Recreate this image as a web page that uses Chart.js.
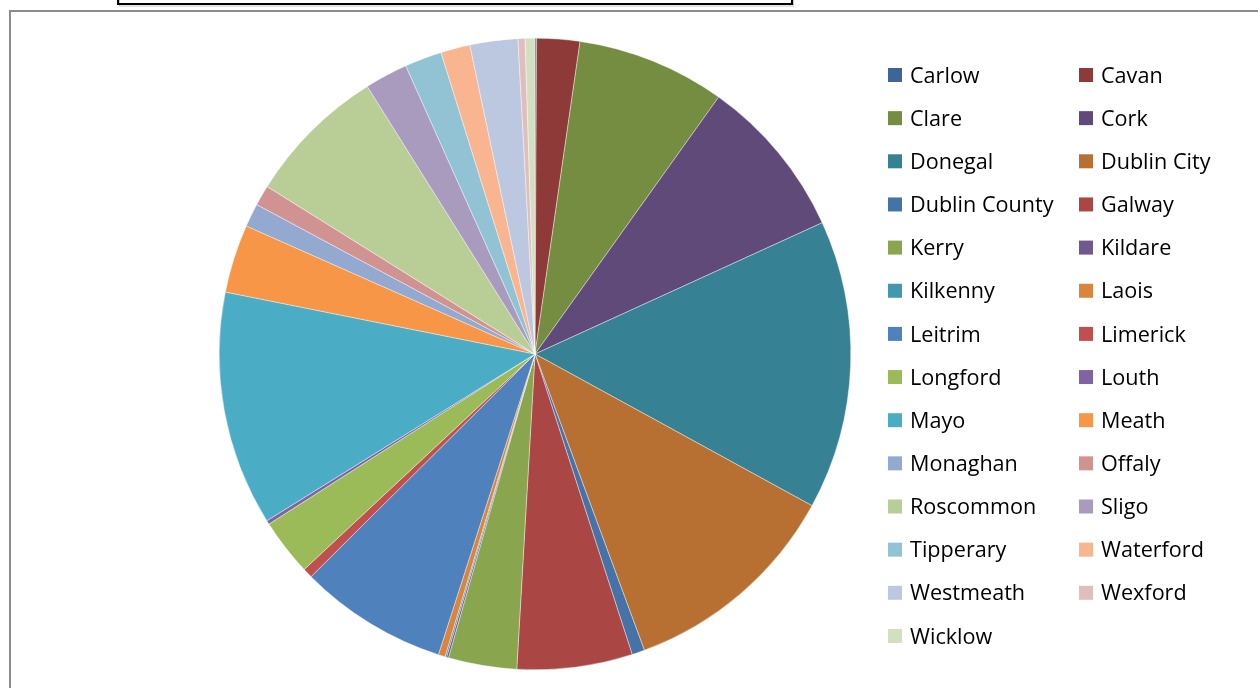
<!DOCTYPE html>
<html>
<head>
<meta charset="utf-8">
<title>Counties</title>
<script src="https://cdn.jsdelivr.net/npm/chart.js@4.4.1/dist/chart.umd.min.js"></script>
<style>
    html, body { margin: 0; padding: 0; background: #fff; }
    #wrap { width: 1258px; height: 688px; position: relative; }
</style>
</head>
<body>
<div id="wrap"><canvas id="countyChart"></canvas></div>
<script>
const counties = ['Carlow', 'Cavan', 'Clare', 'Cork', 'Donegal', 'Dublin City', 'Dublin County', 'Galway',
    'Kerry', 'Kildare', 'Kilkenny', 'Laois', 'Leitrim', 'Limerick', 'Longford', 'Louth', 'Mayo', 'Meath',
    'Monaghan', 'Offaly', 'Roscommon', 'Sligo', 'Tipperary', 'Waterford', 'Westmeath', 'Wexford', 'Wicklow'];

// share of total (%)
const shares = [0.08, 2.2, 7.6, 8.3, 14.8, 11.4, 0.65, 5.9,
    3.5, 0.1, 0.08, 0.35, 7.6, 0.5, 2.9, 0.2, 12.0, 3.5,
    1.2, 1.05, 7.2, 2.2, 1.9, 1.5, 2.45, 0.36, 0.5];

const sliceColors = ['#3d6596', '#8e3a38', '#758d41', '#5f4a79', '#368294', '#b86f32', '#4572a7', '#aa4643',
    '#89a54e', '#71588f', '#4198af', '#db843d', '#4f81bd', '#c0504d', '#9bbb59', '#8064a2', '#4bacc6', '#f79646',
    '#93a9cf', '#d19392', '#b9cd96', '#a99bbd', '#91c3d5', '#f9b590', '#bcc8e0', '#e0bebd', '#d3dfc1'];

// frame and the clipped title box behind the plot
const framePlugin = {
    id: 'frame',
    beforeDraw(chart) {
        const ctx = chart.ctx;
        ctx.save();
        ctx.fillStyle = '#ffffff';
        ctx.fillRect(0, 0, chart.width, chart.height);
        ctx.strokeStyle = '#8c8c8c';
        ctx.lineWidth = 2;
        ctx.strokeRect(10, 11, chart.width + 20, chart.height + 20);
        ctx.strokeStyle = '#c8c8c8';
        ctx.lineWidth = 1;
        ctx.strokeRect(119.5, -10, 674, 16);
        ctx.strokeStyle = '#000000';
        ctx.lineWidth = 2;
        ctx.strokeRect(118, -10, 674, 14);
        ctx.restore();
    }
};

// two-column legend, filled row by row
const gridLegend = {
    id: 'gridLegend',
    afterDraw(chart) {
        const ctx = chart.ctx;
        const labels = chart.data.labels;
        const colors = chart.data.datasets[0].backgroundColor;
        ctx.save();
        ctx.font = '21.6px "Open Sans", sans-serif';
        ctx.textBaseline = 'middle';
        ctx.textAlign = 'left';
        labels.forEach((label, i) => {
            const col = i % 2;
            const row = Math.floor(i / 2);
            const x = col === 0 ? 888 : 1079;
            const y = 75 + row * 43.15;
            ctx.fillStyle = colors[i];
            ctx.fillRect(x, y - 7, 14, 14);
            ctx.fillStyle = '#000000';
            ctx.fillText(label, x + 22, y + 1.5);
        });
        ctx.restore();
    }
};

new Chart(document.getElementById('countyChart').getContext('2d'), {
    type: 'pie',
    data: {
        labels: counties,
        datasets: [{
            data: shares,
            backgroundColor: sliceColors,
            borderColor: '#ffffff',
            borderWidth: 0.4
        }]
    },
    options: {
        responsive: true,
        maintainAspectRatio: false,
        animation: false,
        layout: {
            padding: { top: 38, bottom: 18, left: 219, right: 407 }
        },
        plugins: {
            legend: { display: false },
            tooltip: { enabled: false }
        }
    },
    plugins: [framePlugin, gridLegend]
});
</script>
</body>
</html>
